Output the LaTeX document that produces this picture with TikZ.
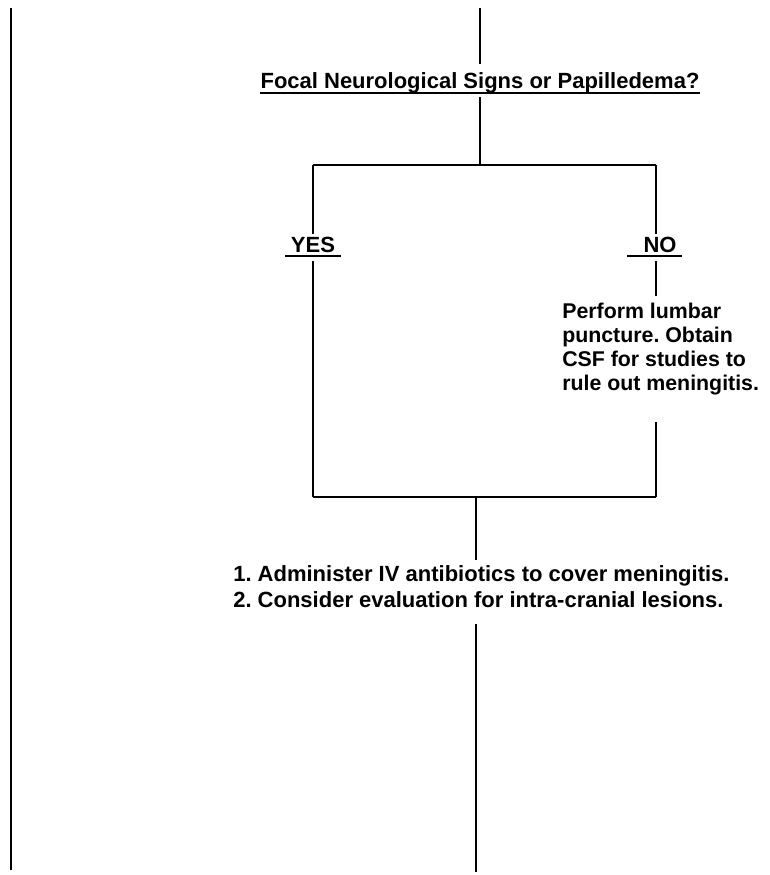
\documentclass[tikz,border=0pt]{standalone}
\usepackage{fontspec}
\setmainfont{Liberation Sans}
\usepackage{tikz}
\usetikzlibrary{positioning}
\frenchspacing

\begin{document}
\begin{tikzpicture}[
  x=0.75pt, y=-0.75pt,
  font=\fontsize{16.5}{18}\selectfont\bfseries,
  wire/.style={line width=1.8pt, draw=black},
  lab/.style={inner xsep=0pt, inner ysep=0pt, text depth=3.6pt, anchor=base},
  txt/.style={inner sep=0pt, align=left, anchor=north west},
]
\useasboundingbox (0,0) rectangle (770,875);
% left margin rule
\coordinate (ltop) at (11,8);
\coordinate (lbot) at (11,870);
\draw[wire] (ltop) -- (lbot);
% question
\coordinate (top) at (480,8);
\node[lab] (title) at (480,88) {Focal Neurological Signs or Papilledema?};
\draw[wire] (title.south west) -- (title.south east);
\draw[wire, shorten >=6pt] (top) -- (title.north);
\coordinate (split) at (480,165);
\draw[wire, shorten <=3pt] (title.south) -- (split);
% branches
\coordinate (yescorner) at (313,165);
\coordinate (nocorner) at (656,165);
\draw[wire] (yescorner) -- (nocorner);
\node[lab, inner xsep=4pt, text depth=2.6pt] (yes) at (313,252) {YES};
\node[lab, inner xsep=4pt, text depth=2.6pt] (no) at (660,252) {NO};
\draw[wire] (yes.south west) -- (yes.south east);
\draw[wire] ([xshift=-8pt]no.south west) -- (no.south east);
\draw[wire, shorten >=2pt] (yescorner) -- (yes.north);
\draw[wire, shorten >=2pt] (nocorner) -- (nocorner |- no.north);
% lumbar puncture
\node[txt, font=\fontsize{16}{18}\selectfont\bfseries] (lp) at (562,303) {Perform lumbar\\puncture. Obtain\\CSF for studies to\\rule out meningitis.};
\draw[wire, shorten <=4pt, shorten >=5pt] (nocorner |- no.south) -- (lp.north -| nocorner);
% join
\coordinate (yesjoin) at (313,497);
\coordinate (nojoin) at (656,497);
\draw[wire, shorten <=4pt] (yes.south) -- (yesjoin);
\draw[wire, shorten <=20pt] (lp.south -| nojoin) -- (nojoin);
\draw[wire] (yesjoin) -- (nojoin);
% treatment
\coordinate (merge) at (476,497);
\node[txt, font=\fontsize{16.5}{19.5}\selectfont\bfseries] (treat) at (233,565) {1. Administer IV antibiotics to cover meningitis.\\2. Consider evaluation for intra-cranial lesions.};
\coordinate (bottom) at (476,872);
\draw[wire, shorten >=4pt] (merge) -- (treat.north -| merge);
\draw[wire, shorten <=12pt] (treat.south -| merge) -- (bottom);
\end{tikzpicture}
\end{document}
